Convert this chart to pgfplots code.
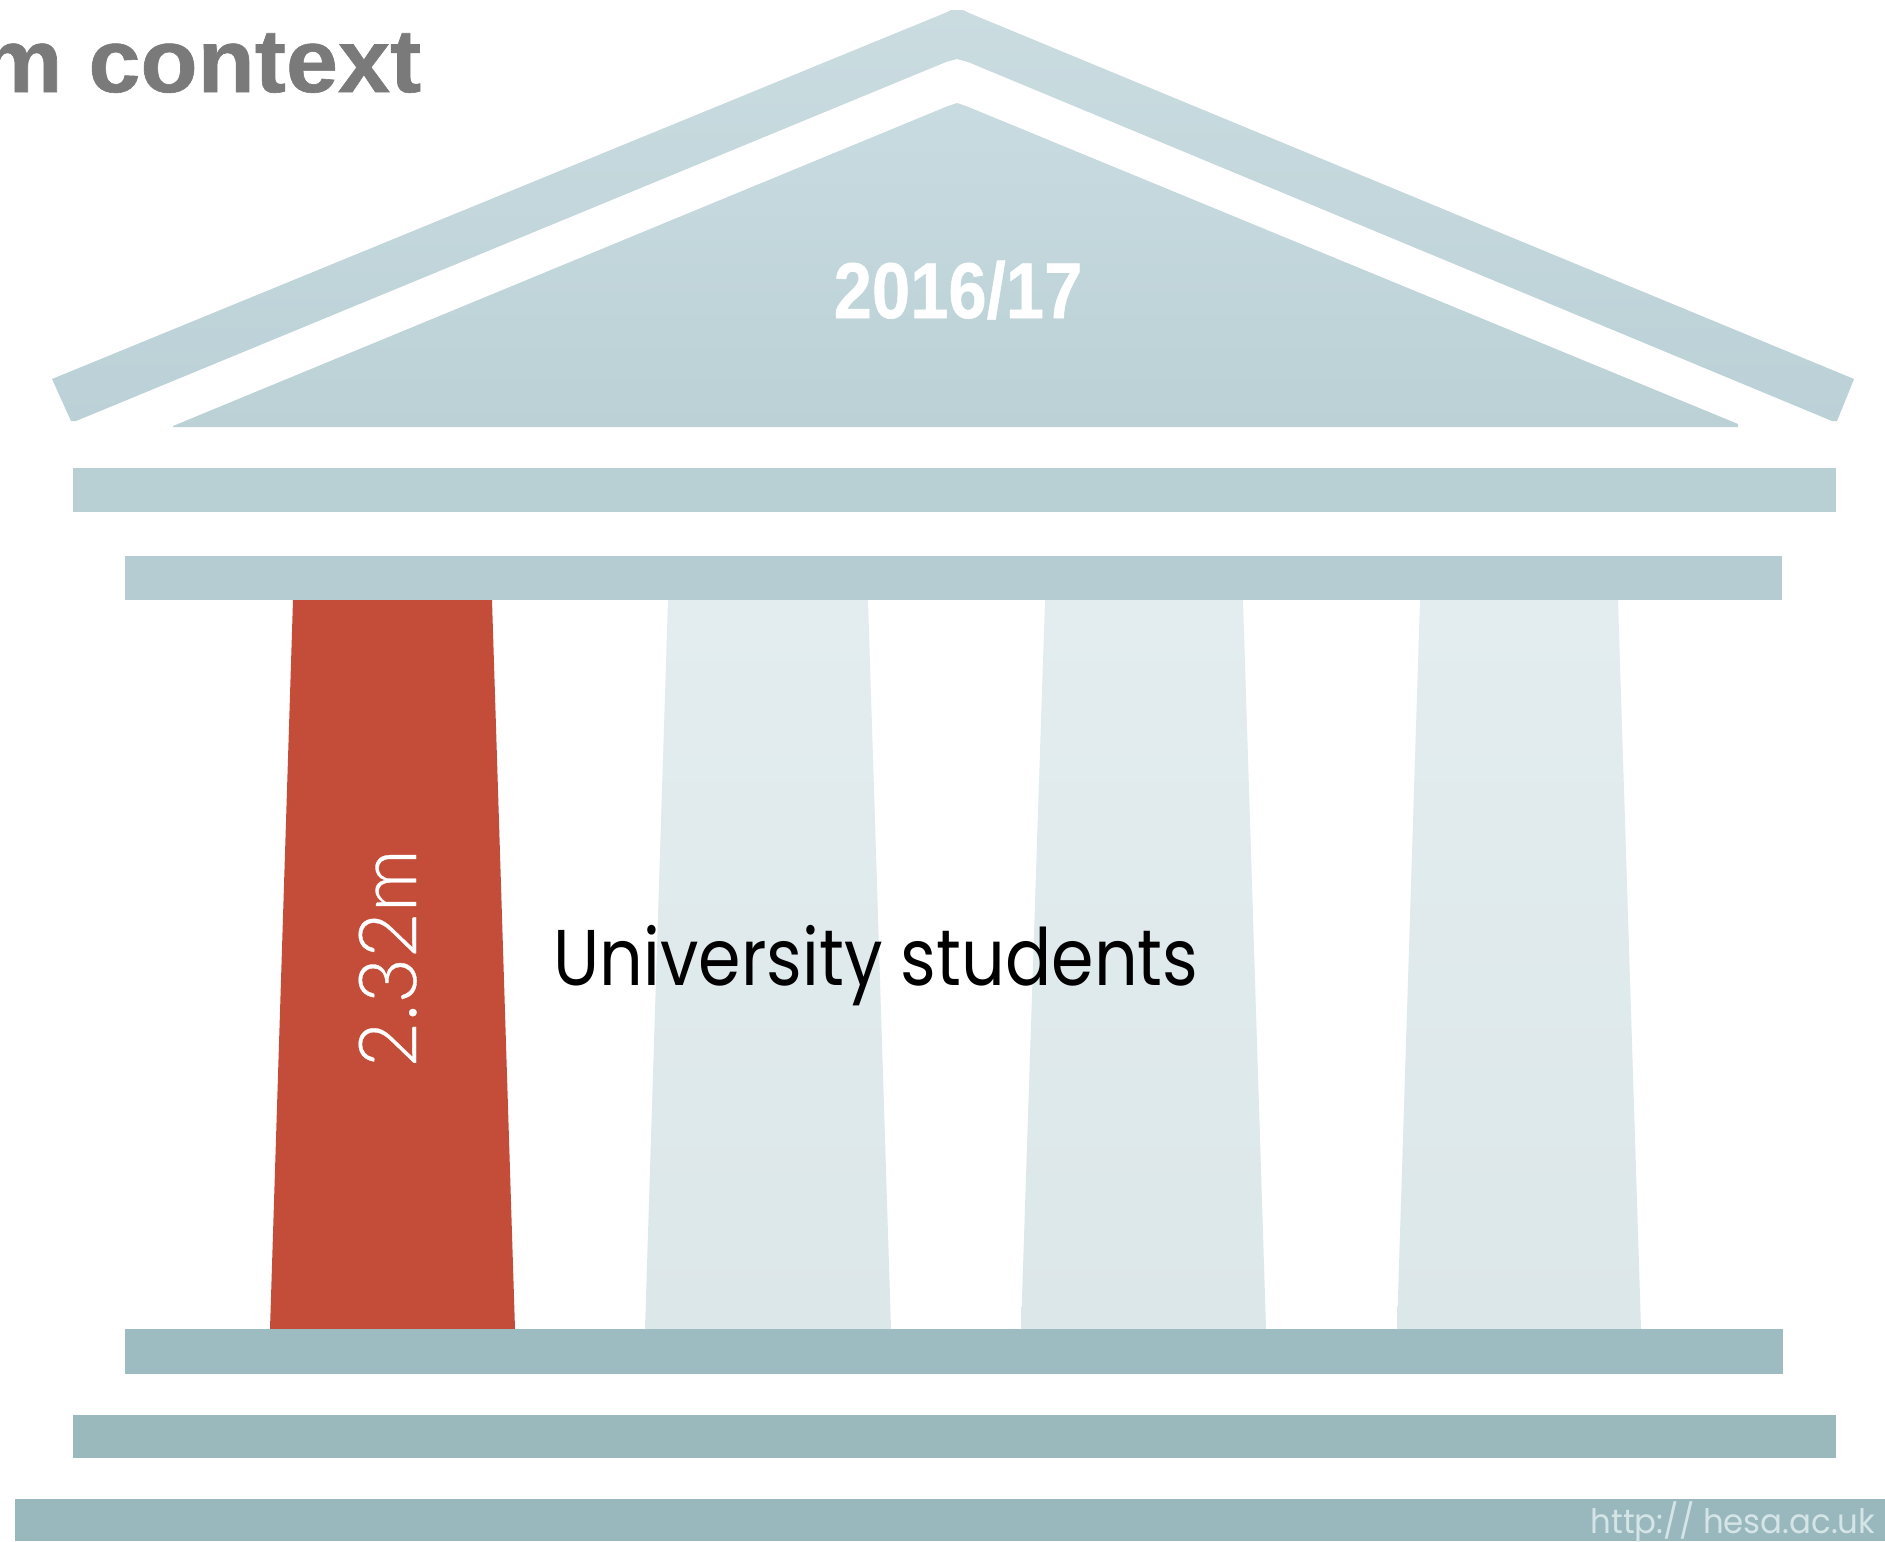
\documentclass[border=0pt]{standalone}
\usepackage{pgfplots}
\pgfplotsset{compat=1.18}
\usepackage{fontspec}
\setmainfont[BoldFeatures={FakeBold=0.7}]{Liberation Sans}
\newfontfamily\geo{Poppins}
\newfontfamily\thin[FakeBold=0.4]{Lato Light}
\definecolor{rooftop}{HTML}{CADCE0}
\definecolor{roofbot}{HTML}{BBD1D7}
\definecolor{pedtop}{HTML}{C8DBE0}
\definecolor{pedbot}{HTML}{BBD1D6}
\definecolor{beamone}{HTML}{B8CFD4}
\definecolor{beamtwo}{HTML}{B5CDD2}
\definecolor{baseone}{HTML}{9CBCC1}
\definecolor{basetwo}{HTML}{99B9BD}
\definecolor{basethree}{HTML}{98B8BD}
\definecolor{coltop}{HTML}{E3EDEF}
\definecolor{colbot}{HTML}{DCE7E9}
\definecolor{redcol}{HTML}{C44D3A}
\definecolor{titlegrey}{HTML}{7A7A7A}
\definecolor{urlcol}{HTML}{D5E4E6}
\pgfplotsset{
    part/.style 2 args={draw=none,shade,top color=#1,bottom color=#2},
}
\begin{document}
\begin{tikzpicture}
\begin{axis}[
    scale only axis,
    width=18.85cm,
    height=15.41cm,
    xmin=0, xmax=1885,
    ymin=0, ymax=1541,
    y dir=reverse,
    axis lines=none,
    ticks=none,
    clip=true,
]
% background, keeps the page at full size
\addplot[draw=none,fill=white] coordinates {(0,0) (1885,0) (1885,1541) (0,1541)} -- cycle;
% roof
\addplot[part={rooftop}{roofbot}] coordinates {
(52,379) (945,13) (951,10) (963,10) (969,13) (1854,379) (1837,421) (1832,421)
(968,62) (957,59) (946,62) (76,421) (71,421)
} -- cycle;
% pediment
\addplot[part={pedtop}{pedbot}] coordinates {
(173,426) (948,106) (957,103) (966,106) (1738,424) (1738,427) (173,427)
} -- cycle;
% upper beams
\addplot[draw=none,fill=beamone] coordinates {(73,468) (1836,468) (1836,512) (73,512)} -- cycle;
\addplot[draw=none,fill=beamtwo] coordinates {(125,556) (1782,556) (1782,600) (125,600)} -- cycle;
% columns
\addplot[draw=none,fill=redcol] coordinates {(293,600) (492,600) (515,1329) (270,1329)} -- cycle;
\addplot[part={coltop}{colbot}] coordinates {(668,600) (868,600) (891,1329) (645,1329)} -- cycle;
\addplot[part={coltop}{colbot}] coordinates {(1045,600) (1243,600) (1266,1329) (1021,1329)} -- cycle;
\addplot[part={coltop}{colbot}] coordinates {(1420,600) (1618,600) (1641,1329) (1397,1329)} -- cycle;
% base
\addplot[draw=none,fill=baseone] coordinates {(125,1329) (1783,1329) (1783,1374) (125,1374)} -- cycle;
\addplot[draw=none,fill=basetwo] coordinates {(73,1415) (1836,1415) (1836,1458) (73,1458)} -- cycle;
\addplot[draw=none,fill=basethree] coordinates {(15,1499) (1885,1499) (1885,1541) (15,1541)} -- cycle;
% text
\node[overlay,anchor=base east,inner sep=0pt,text=titlegrey] at (axis cs:422,92)
    {\scalebox{1.04}[1]{\fontsize{25.6pt}{25.6pt}\selectfont\bfseries m context}};
\node[anchor=base,inner sep=0pt,text=white] at (axis cs:958,318)
    {\scalebox{0.87}[1]{\fontsize{22.5pt}{22.5pt}\selectfont\bfseries 2016/17}};
\node[anchor=base west,inner sep=0pt,text=black] at (axis cs:553,985)
    {\scalebox{0.865}[1]{\fontsize{22.5pt}{22.5pt}\selectfont\geo University students}};
\node[anchor=base west,inner sep=0pt,text=white,rotate=90] at (axis cs:416,1068)
    {\scalebox{0.98}[1]{\fontsize{22.8pt}{22.8pt}\selectfont\thin 2.32m}};
\node[anchor=base east,inner sep=0pt,text=urlcol] at (axis cs:1876,1533)
    {\scalebox{0.96}[1]{\fontsize{9.6pt}{9.6pt}\selectfont\geo http:// hesa.ac.uk}};
\end{axis}
\end{tikzpicture}
\end{document}
